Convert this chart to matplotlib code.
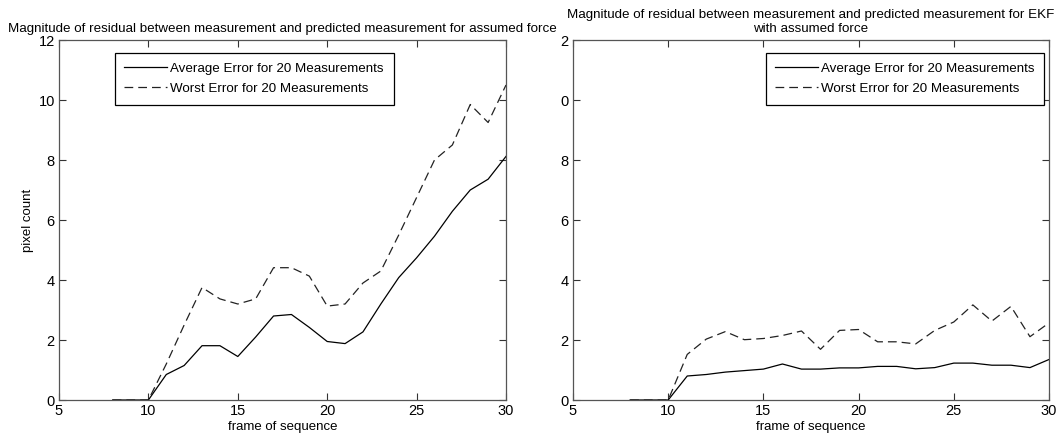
import matplotlib
matplotlib.use("Agg")
import matplotlib.pyplot as plt

plt.rcParams['font.family'] = ['Liberation Sans', 'DejaVu Sans']

frames = [8, 9, 10, 11, 12, 13, 14, 15, 16, 17, 18, 19, 20, 21, 22, 23, 24, 25, 26, 27, 28, 29, 30]

left_avg = [0, 0, 0, 0.85, 1.15, 1.81, 1.81, 1.45, 2.1, 2.8, 2.85, 2.42, 1.95, 1.88, 2.27,
            3.2, 4.08, 4.74, 5.46, 6.29, 7.0, 7.36, 8.12]
left_worst = [0, 0, 0, 1.2, 2.5, 3.75, 3.37, 3.2, 3.37, 4.41, 4.41, 4.13, 3.13, 3.2, 3.9,
              4.3, 5.5, 6.75, 8.0, 8.5, 9.85, 9.25, 10.5]

right_avg = [0, 0, 0, 0.8, 0.85, 0.93, 0.98, 1.03, 1.2, 1.03, 1.03, 1.07, 1.07, 1.12, 1.12,
             1.04, 1.08, 1.23, 1.23, 1.16, 1.16, 1.08, 1.35]
right_worst = [0, 0, 0, 1.52, 2.03, 2.28, 2.01, 2.05, 2.15, 2.3, 1.69, 2.32, 2.35, 1.94, 1.94,
               1.87, 2.32, 2.6, 3.17, 2.63, 3.12, 2.11, 2.57]

xticks = [5, 10, 15, 20, 25, 30]
yticks = [0, 2, 4, 6, 8, 10, 12]
left_yticklabels = ['0', '2', '4', '6', '8', '10', '12']
right_yticklabels = ['0', '2', '4', '6', '8', '0', '2']

legend_labels = ['Average Error for 20 Measurements', 'Worst Error for 20 Measurements']
left_title = 'Magnitude of residual between measurement and predicted measurement for assumed force'
right_title = 'Magnitude of residual between measurement and predicted measurement for EKF\nwith assumed force'

W, H = 1057, 441
fig = plt.figure(figsize=(W / 100, H / 100), dpi=100)

def px_axes(x0, x1, ytop, ybot):
    return fig.add_axes([x0 / W, 1 - ybot / H, (x1 - x0) / W, (ybot - ytop) / H])

ax1 = px_axes(59, 506, 40, 400)
ax2 = px_axes(573, 1049, 40, 400)

def style(ax, avg, worst, ylabels, title, legend_kw):
    ax.plot(frames, avg, color='black', lw=0.9, label=legend_labels[0])
    ax.plot(frames, worst, color='#222222', lw=0.9, dashes=(7, 4), label=legend_labels[1])
    ax.set_xlim(5, 30)
    ax.set_ylim(0, 12)
    ax.set_xticks(xticks)
    ax.set_yticks(yticks)
    ax.set_yticklabels(ylabels)
    ax.tick_params(direction='in', top=True, right=True, length=5, width=0.8,
                   labelsize=10.5, colors='#333333', labelcolor='black', pad=3)
    for s in ax.spines.values():
        s.set_color('#555555')
        s.set_linewidth(0.9)
    ax.set_xlabel('frame of sequence', fontsize=9.5, labelpad=2)
    ax.set_title(title, fontsize=9.6, pad=6, linespacing=1.15)
    leg = ax.legend(fancybox=False, framealpha=1, edgecolor='black', fontsize=9.6,
                    handlelength=3.2, borderpad=0.72, labelspacing=0.58,
                    handletextpad=0.25, borderaxespad=0, **legend_kw)
    leg.get_frame().set_linewidth(0.9)

style(ax1, left_avg, left_worst, left_yticklabels, left_title,
      dict(loc='upper left', bbox_to_anchor=(0.125, 0.964)))
style(ax2, right_avg, right_worst, right_yticklabels, right_title,
      dict(loc='upper right', bbox_to_anchor=(0.99, 0.964)))
ax1.set_ylabel('pixel count', fontsize=9.5, labelpad=3)

fig.savefig('out.png', dpi=100)
